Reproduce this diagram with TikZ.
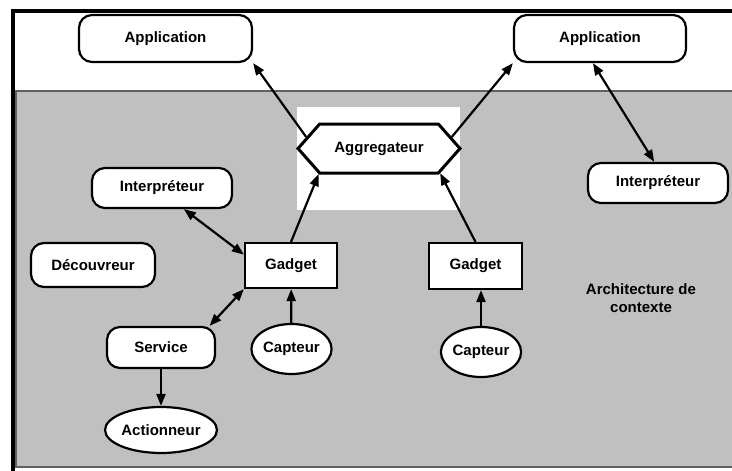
\documentclass[tikz,border=0pt]{standalone}
\usepackage{fontspec}
\setmainfont{Liberation Sans}
\usetikzlibrary{shapes.geometric,shapes.symbols,arrows.meta}
\definecolor{fondgris}{RGB}{192,192,192}
\definecolor{bordgris}{RGB}{96,96,96}
\tikzset{
  boite/.style={draw,line width=2.2pt,fill=white,rounded corners=13pt,inner sep=0pt},
  carre/.style={draw,line width=2.2pt,fill=white,inner sep=0pt},
  bulle/.style={ellipse,draw,line width=2.2pt,fill=white,inner sep=0pt},
  fleche/.style={line width=2.2pt,-{Triangle[length=12pt,width=9pt]}},
  dfleche/.style={line width=2.2pt,{Triangle[length=12pt,width=9pt]}-{Triangle[length=12pt,width=9pt]}}
}

\begin{document}
\begin{tikzpicture}[x=1pt,y=-1pt,font=\fontsize{15}{18}\selectfont\bfseries]
\useasboundingbox (0,0) rectangle (732,471);
\fill[white] (0,0) rectangle (732,471);
% cadre et zone grise
\draw[line width=4pt] (12.5,480) -- (12.5,10.5) -- (745,10.5);
\draw[fill=fondgris,draw=bordgris,line width=1.2pt] (16,91) rectangle (745,467);
\fill[white] (297,107) rectangle (460,210);
% noeuds
\node[boite,minimum width=173pt,minimum height=47pt] (appL) at (165.5,38.5) {Application};
\node[boite,minimum width=172pt,minimum height=47pt] (appR) at (600,38.5) {Application};
\node[signal,signal to=west and east,signal pointer angle=97,draw,line width=3pt,fill=white,
  minimum width=162pt,minimum height=49pt,inner sep=0pt] (agg) at (379,148.5) {Aggregateur};
\node[boite,minimum width=140pt,minimum height=40pt] (intL) at (162,188) {Interpréteur};
\node[boite,minimum width=140pt,minimum height=40pt] (intR) at (658,183) {Interpréteur};
\node[boite,minimum width=124pt,minimum height=44pt] (decouv) at (93,265) {Découvreur};
\node[carre,minimum width=92pt,minimum height=45pt] (gadL) at (291,265.5) {Gadget};
\node[carre,minimum width=93pt,minimum height=46pt] (gadR) at (475.5,266) {Gadget};
\node[boite,minimum width=108pt,minimum height=41pt] (service) at (161,347.5) {Service};
\node[bulle,minimum width=73pt,minimum height=50pt] (capL) at (291.5,349) {Capteur};
\node[bulle,minimum width=72pt,minimum height=50pt] (capR) at (481,352) {Capteur};
\node[bulle,minimum width=92pt,minimum height=46pt] (act) at (161,430) {Actionneur};
\node[align=center] (archi) at (641,298) {Architecture de\\contexte};
% liens
\draw[fleche] (agg.171) -- (appL.south east);
\draw[fleche] (agg.9) -- (appR.south west);
\draw[dfleche] (appR.254) -- (intR.100);
\draw[fleche] (gadL.north) -- (agg.203);
\draw[fleche] (gadR.north) -- (agg.-22);
\draw[dfleche] (intL.-44) -- (gadL.167);
\draw[dfleche] (service.24) -- (gadL.south west);
\draw[fleche] (capL) -- (gadL);
\draw[fleche] (capR.north) -- (capR.north |- gadR.south);
\draw[fleche] (service) -- (act);
\end{tikzpicture}
\end{document}
